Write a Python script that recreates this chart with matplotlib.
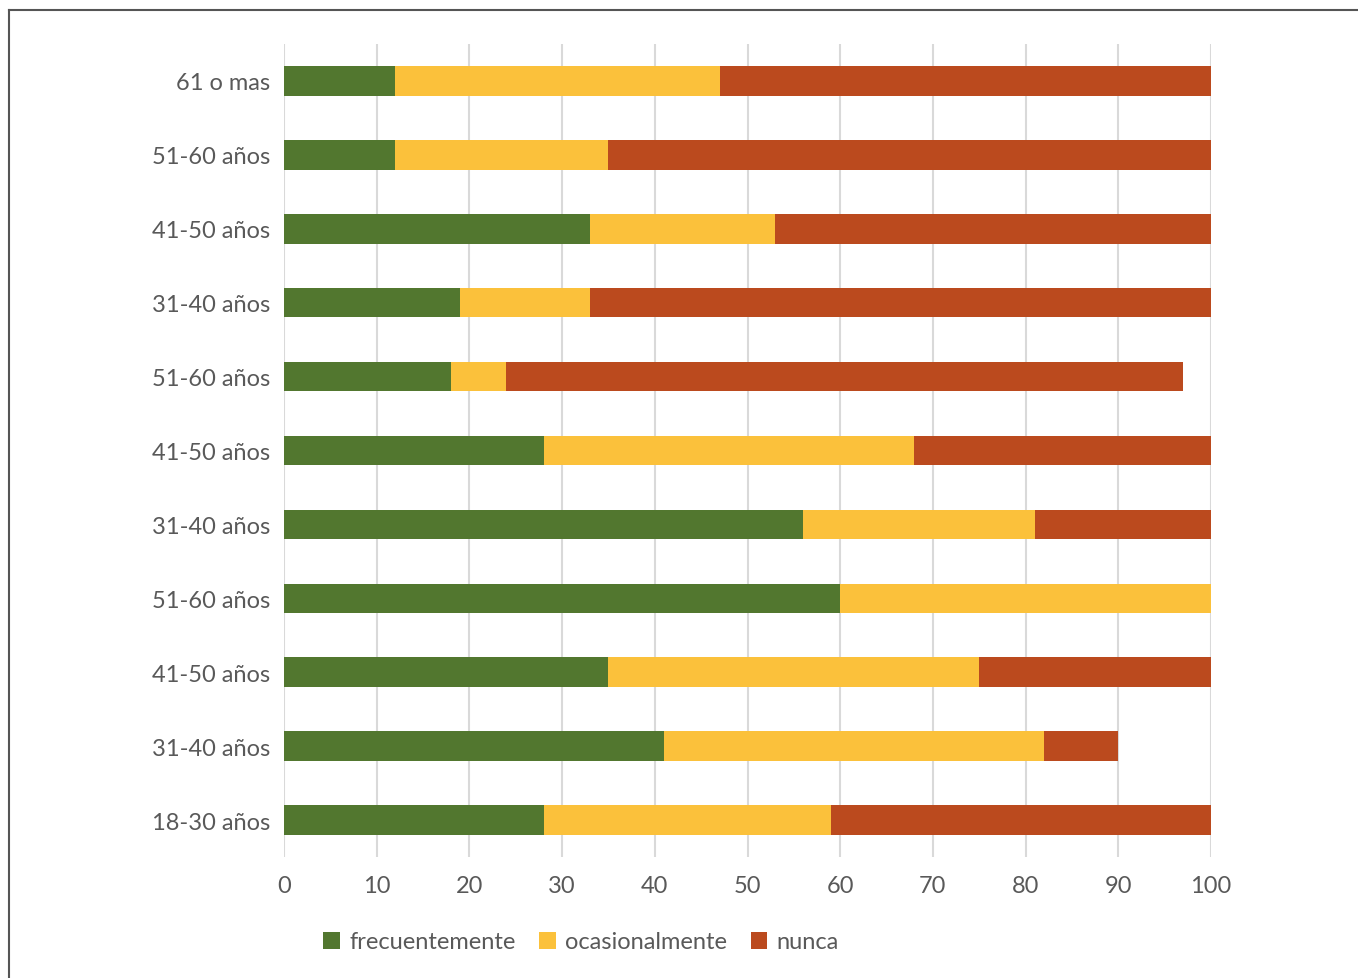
import numpy as np
import matplotlib
matplotlib.use('Agg')
import matplotlib.pyplot as plt
from matplotlib.lines import Line2D

# categories, bottom to top
grupos = ['18-30 años', '31-40 años', '41-50 años', '51-60 años', '31-40 años',
          '41-50 años', '51-60 años', '31-40 años', '41-50 años', '51-60 años', '61 o mas']
frecuentemente = [28, 41, 35, 60, 56, 28, 18, 19, 33, 12, 12]
ocasionalmente = [31, 41, 40, 40, 25, 40, 6, 14, 20, 23, 35]
nunca = [41, 8, 25, 0, 19, 32, 73, 67, 47, 65, 53]
series_names = ['frecuentemente', 'ocasionalmente', 'nunca']
colores = ['#52772F', '#FBC13B', '#BB4A1E']

plt.rcParams['font.family'] = ['Lato', 'DejaVu Sans']
txt = '#595959'

fig = plt.figure(figsize=(13.58, 9.79), dpi=100)
ax = fig.add_axes([284/1358, 121/979, 927/1358, 813/979])

y = np.arange(len(grupos))
left = np.zeros(len(grupos))
for vals, name, c in zip([frecuentemente, ocasionalmente, nunca], series_names, colores):
    ax.barh(y, vals, left=left, height=0.4, color=c, label=name, zorder=3)
    left = left + np.array(vals)

ax.set_xlim(0, 100)
ax.set_ylim(-0.5, len(grupos) - 0.5)
ax.set_xticks(np.arange(0, 101, 10))
ax.set_yticks(y)
ax.set_yticklabels(grupos)
ax.grid(axis='x', color='#D9D9D9', linewidth=1.5, zorder=0)
ax.tick_params(axis='both', length=0, labelsize=17, colors=txt)
ax.tick_params(axis='y', pad=10)
ax.tick_params(axis='x', pad=13)
for s in ax.spines.values():
    s.set_visible(False)

leg = fig.legend(loc='center', bbox_to_anchor=(581/1358, 1 - 943/979), ncol=3,
                 frameon=False, fontsize=17, handlelength=0.7, handleheight=0.7,
                 handletextpad=0.4, columnspacing=1.0)
for t in leg.get_texts():
    t.set_color(txt)

# outer frame (cut off on right and bottom)
fig.add_artist(Line2D([9/1358, 9/1358], [0, 1 - 11/979], transform=fig.transFigure,
                      color='#555555', linewidth=1.5))
fig.add_artist(Line2D([9/1358, 1], [1 - 11/979, 1 - 11/979], transform=fig.transFigure,
                      color='#555555', linewidth=1.5))

fig.savefig('out.png', dpi=100)
